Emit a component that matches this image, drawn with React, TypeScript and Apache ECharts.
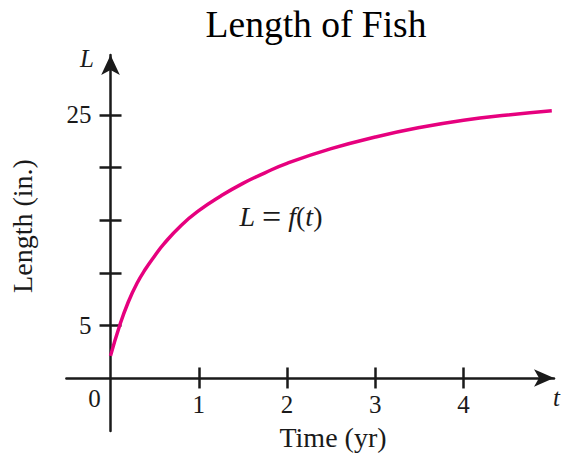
import React, { useEffect, useRef } from "react";
import * as echarts from "echarts";

// Data: time (yr) and fish length (in.)
const times = [0, 0.1, 0.2, 0.3, 0.4, 0.5, 0.6, 0.8, 1.0, 1.25, 1.5, 1.75, 2.0, 2.5, 3.0, 3.5, 4.0, 4.5, 5.0];
const lengths = [2.1, 4.9, 7.2, 9.0, 10.4, 11.6, 12.7, 14.5, 15.9, 17.3, 18.5, 19.5, 20.4, 21.8, 22.9, 23.8, 24.5, 25.0, 25.4];
const xTicks = [1, 2, 3, 4];
const yTicks = [5, 10, 15, 20, 25];
const yLabels = [5, 25];

const SERIF = "'Liberation Serif', 'Times New Roman', serif";
const INK = "#1a1a1a";
const CURVE = "#E6007E";

const X_MIN = -0.5;
const X_MAX = 5.025;
const Y_MIN = -5.04;
const Y_MAX = 30.7;

export default function App() {
  const ref = useRef<HTMLDivElement>(null);
  useEffect(() => {
    document.body.style.margin = "0";
    if (!ref.current) return;
    const chart = echarts.init(ref.current, undefined, { renderer: "svg" });
    const gridW = 487.6;
    const gridH = 376;
    // distance of the zero lines from the grid's left / top edges
    const xZero = ((0 - X_MIN) / (X_MAX - X_MIN)) * gridW;
    const yZero = ((Y_MAX - 0) / (Y_MAX - Y_MIN)) * gridH;
    const axisLineStyle = { color: INK, width: 2.5 };
    const labelStyle = { fontFamily: SERIF, fontSize: 25, color: INK };
    chart.setOption({
      animation: false,
      backgroundColor: "#ffffff",
      grid: {
        left: 66.4,
        top: 55,
        width: gridW,
        height: gridH,
        containLabel: false,
        outerBoundsMode: "none",
      },
      xAxis: [
        {
          type: "value",
          min: X_MIN,
          max: X_MAX,
          position: "bottom",
          offset: -(gridH - yZero),
          axisLine: {
            show: true,
            onZero: false,
            symbol: ["none", "arrow"],
            symbolSize: [13, 20],
            lineStyle: axisLineStyle,
          },
          axisTick: { show: true, customValues: xTicks, length: 10.5, inside: false, lineStyle: axisLineStyle },
          axisLabel: { show: true, customValues: xTicks, margin: 14.5, ...labelStyle },
          splitLine: { show: false },
        },
        {
          type: "value",
          min: X_MIN,
          max: X_MAX,
          position: "top",
          offset: -yZero,
          axisLine: { show: false, onZero: false },
          axisTick: { show: true, customValues: xTicks, length: 10.5, inside: false, lineStyle: axisLineStyle },
          axisLabel: { show: false },
          splitLine: { show: false },
        },
      ],
      yAxis: [
        {
          type: "value",
          min: Y_MIN,
          max: Y_MAX,
          position: "left",
          offset: -xZero,
          axisLine: {
            show: true,
            onZero: false,
            symbol: ["none", "arrow"],
            symbolSize: [14, 20],
            lineStyle: axisLineStyle,
          },
          axisTick: { show: true, customValues: yTicks, length: 11, inside: false, lineStyle: axisLineStyle },
          axisLabel: { show: true, customValues: yLabels, margin: 19, ...labelStyle },
          splitLine: { show: false },
        },
        {
          type: "value",
          min: Y_MIN,
          max: Y_MAX,
          position: "right",
          offset: -(gridW - xZero),
          axisLine: { show: false, onZero: false },
          axisTick: { show: true, customValues: yTicks, length: 11, inside: false, lineStyle: axisLineStyle },
          axisLabel: { show: false },
          splitLine: { show: false },
        },
      ],
      series: [
        {
          type: "line",
          xAxisIndex: 0,
          yAxisIndex: 0,
          data: times.map((t, i) => [t, lengths[i]]),
          smooth: 0.5,
          showSymbol: false,
          symbol: "none",
          lineStyle: { color: CURVE, width: 3.5 },
          silent: true,
        },
      ],
      graphic: [
        {
          type: "text",
          x: 316,
          y: 24,
          style: {
            text: "Length of Fish",
            fontFamily: SERIF,
            fontSize: 37.5,
            fill: "#000",
            textAlign: "center",
            textVerticalAlign: "middle",
          },
        },
        {
          type: "text",
          x: 22.6,
          y: 226,
          rotation: Math.PI / 2,
          style: {
            text: "Length (in.)",
            fontFamily: SERIF,
            fontSize: 28,
            fill: INK,
            textAlign: "center",
            textVerticalAlign: "middle",
          },
        },
        {
          type: "text",
          x: 333,
          y: 437.5,
          style: {
            text: "Time (yr)",
            fontFamily: SERIF,
            fontSize: 28,
            fill: INK,
            textAlign: "center",
            textVerticalAlign: "middle",
          },
        },
        {
          type: "text",
          x: 87,
          y: 58,
          style: {
            text: "L",
            fontFamily: SERIF,
            fontStyle: "italic",
            fontSize: 25,
            fill: INK,
            textAlign: "center",
            textVerticalAlign: "middle",
          },
        },
        {
          type: "text",
          x: 556.5,
          y: 397,
          style: {
            text: "t",
            fontFamily: SERIF,
            fontStyle: "italic",
            fontSize: 25,
            fill: INK,
            textAlign: "center",
            textVerticalAlign: "middle",
          },
        },
        {
          type: "text",
          x: 94.4,
          y: 398,
          style: {
            text: "0",
            fontFamily: SERIF,
            fontSize: 25,
            fill: INK,
            textAlign: "center",
            textVerticalAlign: "middle",
          },
        },
        {
          type: "text",
          x: 281,
          y: 216.5,
          style: {
            text: "{i|L} {e|=} {i|f}({i|t})",
            fontFamily: SERIF,
            fontSize: 28,
            fill: INK,
            textAlign: "center",
            textVerticalAlign: "middle",
            rich: {
              i: { fontFamily: SERIF, fontSize: 28, fontStyle: "italic", fill: INK },
              e: { fontFamily: SERIF, fontSize: 34, fill: INK },
            },
          },
        },
      ],
    });
    return () => chart.dispose();
  }, []);
  return <div ref={ref} style={{ width: 568, height: 458 }} />;
}
